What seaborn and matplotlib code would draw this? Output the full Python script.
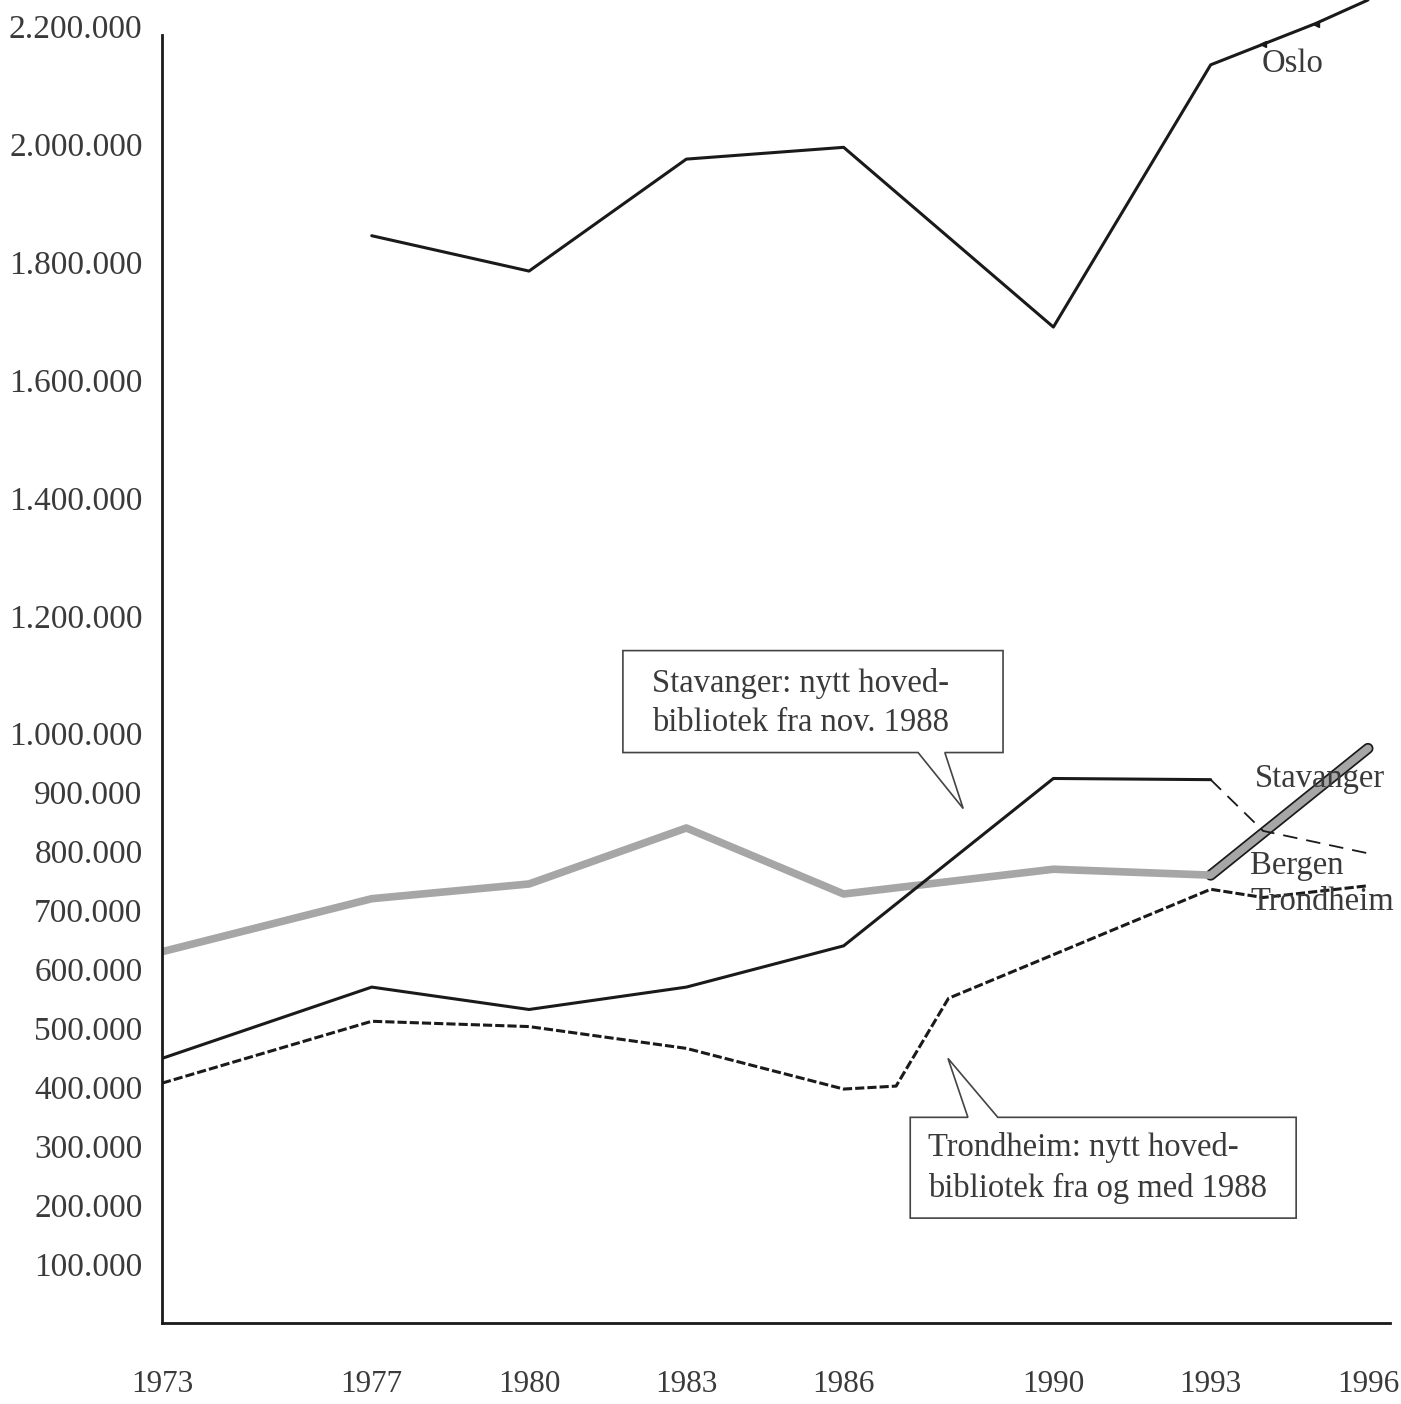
import matplotlib.pyplot as plt
import matplotlib.ticker as mticker
from matplotlib.patches import Polygon
import seaborn as sns
import pandas as pd

# Utlån per år, hovedbibliotekene i de fire største byene
oslo_years = [1977, 1980, 1983, 1986, 1990, 1993, 1994, 1995, 1996]
oslo_values = [1845000, 1785000, 1975000, 1995000, 1690000, 2135000, 2170000, 2205000, 2245000]

stavanger_years = [1973, 1977, 1980, 1983, 1986, 1990, 1993]
stavanger_values = [449000, 570000, 532000, 570000, 640000, 924000, 922000]
stavanger_tail_years = [1993, 1994, 1996]
stavanger_tail_values = [922000, 835000, 797000]

bergen_years = [1973, 1977, 1980, 1983, 1986, 1990, 1993, 1996]
bergen_values = [630000, 720000, 745000, 840000, 728000, 770000, 760000, 975000]

trondheim_years = [1973, 1977, 1980, 1983, 1986, 1987, 1988, 1993, 1994, 1996]
trondheim_values = [407000, 512000, 503000, 466000, 397000, 402000, 551000, 736000, 722000, 742000]

year_ticks = [1973, 1977, 1980, 1983, 1986, 1990, 1993, 1996]
value_ticks = [100000, 200000, 300000, 400000, 500000, 600000, 700000, 800000, 900000,
               1000000, 1200000, 1400000, 1600000, 1800000, 2000000, 2200000]

sns.set_style('white')
plt.rcParams['font.family'] = ['Liberation Serif', 'DejaVu Serif']
text_color = '#3a3a3a'
line_color = '#1a1a1a'

fig = plt.figure(figsize=(14.01, 14.04), dpi=100)
ax = fig.add_axes([162 / 1401, 1 - 1323 / 1404, (1390 - 162) / 1401, 1323 / 1404])

# Oslo
oslo = pd.DataFrame({'year': oslo_years, 'value': oslo_values})
sns.lineplot(data=oslo, x='year', y='value', ax=ax, color=line_color, lw=2.2)
ax.plot(oslo_years[6:8], oslo_values[6:8], ls='none', marker='<', ms=5, color=line_color)

# Bergen (grå, tykk)
bergen = pd.DataFrame({'year': bergen_years, 'value': bergen_values})
sns.lineplot(data=bergen.iloc[-2:], x='year', y='value', ax=ax, color=line_color, lw=8)
sns.lineplot(data=bergen, x='year', y='value', ax=ax, color='#a6a6a6', lw=5.5)

# Stavanger
stavanger = pd.DataFrame({'year': stavanger_years, 'value': stavanger_values})
sns.lineplot(data=stavanger, x='year', y='value', ax=ax, color=line_color, lw=2.2)
tail = pd.DataFrame({'year': stavanger_tail_years, 'value': stavanger_tail_values})
ax.plot(tail['year'], tail['value'], color=line_color, lw=1.3, ls=(0, (8, 5)))

# Trondheim (stiplet)
trondheim = pd.DataFrame({'year': trondheim_years, 'value': trondheim_values})
ax.plot(trondheim['year'], trondheim['value'], color=line_color, lw=2.2, ls=(0, (3, 1)))

# axes
ax.set_xlim(1973, 1996.42)
ax.set_ylim(0, 2245000)
ax.set_xlabel('')
ax.set_ylabel('')
ax.set_xticks(year_ticks)
ax.set_xticklabels([str(y) for y in year_ticks])
ax.set_xticks([1994, 1995, 1996], minor=True)
ax.set_yticks(value_ticks)
ax.yaxis.set_major_formatter(mticker.FuncFormatter(lambda v, p: f'{int(v):,}'.replace(',', '.')))
ax.tick_params(axis='x', which='major', length=0, pad=34, labelsize=22.5, labelcolor=text_color)
ax.tick_params(axis='x', which='minor', direction='in', length=7, width=1, color=line_color)
ax.tick_params(axis='y', length=0, pad=14, labelsize=24, labelcolor=text_color)

for side in ['top', 'right']:
    ax.spines[side].set_visible(False)
for side in ['left', 'bottom']:
    ax.spines[side].set_color(line_color)
    ax.spines[side].set_linewidth(2)
ax.spines['left'].set_bounds(0, 2185000)

# series labels
ax.text(1994.57, 2137000, 'Oslo', fontsize=23.5, color=text_color, ha='center', va='center')
ax.text(1993.85, 924000, 'Stavanger', fontsize=23.5, color=text_color, va='center')
ax.text(1993.75, 776000, 'Bergen', fontsize=23.5, color=text_color, va='center')
ax.text(1993.75, 714000, 'Trondheim', fontsize=23.5, color=text_color, va='center')

# callout boxes
stav_box = [(1981.79, 1141000), (1989.04, 1141000), (1989.04, 968000), (1987.93, 968000),
            (1988.28, 873000), (1987.42, 968000), (1981.79, 968000)]
ax.add_patch(Polygon(stav_box, closed=True, facecolor='white', edgecolor='#444444', lw=1.2, zorder=5))
ax.text(1982.35, 1085000, 'Stavanger: nytt hoved-', fontsize=23.5, color=text_color, va='center', zorder=6)
ax.text(1982.35, 1019000, 'bibliotek fra nov. 1988', fontsize=23.5, color=text_color, va='center', zorder=6)

trd_box = [(1987.27, 349000), (1988.37, 349000), (1987.99, 449000), (1988.94, 349000),
           (1994.63, 349000), (1994.63, 178000), (1987.27, 178000)]
ax.add_patch(Polygon(trd_box, closed=True, facecolor='white', edgecolor='#444444', lw=1.2, zorder=5))
ax.text(1987.61, 298000, 'Trondheim: nytt hoved-', fontsize=23.5, color=text_color, va='center', zorder=6)
ax.text(1987.61, 229000, 'bibliotek fra og med 1988', fontsize=23.5, color=text_color, va='center', zorder=6)

plt.savefig('out.png', dpi=100)
plt.close('all')
